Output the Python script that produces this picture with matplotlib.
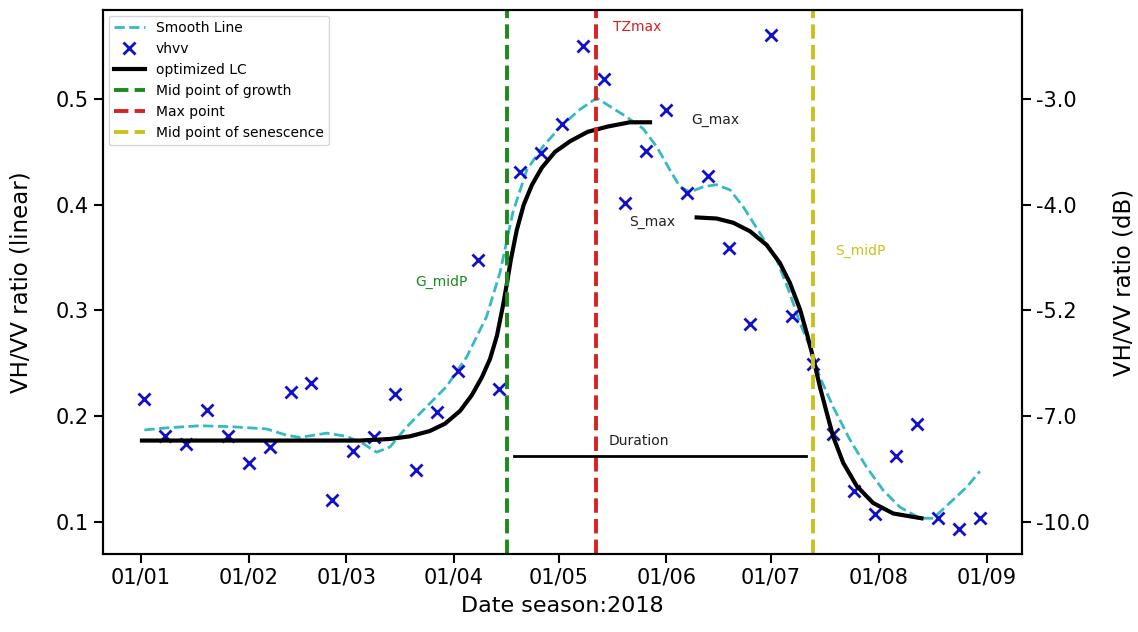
import numpy as np
import matplotlib
matplotlib.use("Agg")
import matplotlib.pyplot as plt
import matplotlib.dates as mdates

# Ngày bắt đầu mùa vụ
season_start = np.datetime64("2018-01-01")

# Quan sát VH/VV (số ngày kể từ 01/01)
obs_days = [1, 7, 13, 19, 25, 31, 37, 43, 49, 55, 61, 67, 73, 79, 85, 91, 97, 103, 109, 115,
            121, 127, 133, 139, 145, 151, 157, 163, 169, 175, 181, 187, 193, 199, 205, 211,
            217, 223, 229, 235, 241]
obs_vhvv = [0.216, 0.181, 0.174, 0.206, 0.181, 0.156, 0.171, 0.223, 0.231, 0.121, 0.167,
            0.180, 0.221, 0.149, 0.204, 0.243, 0.348, 0.226, 0.431, 0.449, 0.476, 0.550,
            0.519, 0.402, 0.451, 0.490, 0.411, 0.427, 0.359, 0.287, 0.561, 0.295, 0.249,
            0.183, 0.129, 0.108, 0.162, 0.193, 0.104, 0.093, 0.104]

# Đường làm mượt
smooth_days = [1, 7.4, 17, 26.5, 36.1, 41.9, 45.7, 53.4, 59.1, 63.9, 67.7, 71.6, 76.4, 82.1,
               87.8, 93.6, 99.3, 103.2, 106.9, 110.9, 115.5, 120.9, 126.1, 131.0, 134.8,
               139.6, 144.3, 148.2, 152.0, 154.9, 157.8, 161.6, 165.4, 169.3, 173.1, 177.9,
               182.7, 186.5, 189.4, 192.2, 195.1, 198.9, 203.7, 208.5, 213.3, 218.1, 223.9,
               227.7, 233.4, 237.3, 241.1]
smooth_vhvv = [0.187, 0.189, 0.191, 0.190, 0.188, 0.182, 0.180, 0.184, 0.181, 0.174, 0.166,
               0.171, 0.190, 0.209, 0.228, 0.256, 0.294, 0.336, 0.393, 0.433, 0.455, 0.475,
               0.490, 0.501, 0.493, 0.483, 0.472, 0.455, 0.433, 0.417, 0.412, 0.417, 0.419,
               0.414, 0.398, 0.373, 0.348, 0.316, 0.288, 0.266, 0.237, 0.209, 0.178, 0.152,
               0.130, 0.114, 0.1035, 0.1035, 0.121, 0.133, 0.148]

# Đường cong tối ưu - giai đoạn sinh trưởng
grow_days = [0.3, 17, 34.2, 51.4, 62.9, 71.6, 77.3, 83, 87.4, 91.7, 95.1, 98, 100.3, 102.3,
             104, 105.2, 106.3, 108, 110, 112.4, 115.2, 119, 123.3, 128.4, 134.2, 140.5, 146.3]
grow_vhvv = [0.177, 0.177, 0.177, 0.177, 0.177, 0.1785, 0.181, 0.186, 0.193, 0.205, 0.220,
             0.237, 0.254, 0.276, 0.304, 0.326, 0.348, 0.376, 0.400, 0.419, 0.435, 0.450,
             0.460, 0.469, 0.474, 0.478, 0.478]

# Đường cong tối ưu - giai đoạn già hóa
sen_days = [159.7, 165.4, 170.2, 175, 179.8, 183.6, 186.5, 189.4, 191.3, 193.2, 195.1, 197.1,
            198.9, 201.8, 205.7, 210.4, 216.2, 224.3]
sen_vhvv = [0.388, 0.387, 0.383, 0.375, 0.362, 0.345, 0.326, 0.301, 0.279, 0.255, 0.228,
            0.203, 0.181, 0.156, 0.134, 0.118, 0.108, 0.1035]

# Các mốc thời gian
g_midp_day = 105.2
tz_max_day = 130.7
s_midp_day = 193.1
duration_days = [107.2, 191.0]
duration_level = 0.1624

y_ticks = [0.1, 0.2, 0.3, 0.4, 0.5]


def to_num(days):
    return mdates.date2num(season_start) + np.asarray(days, dtype=float)


fig = plt.figure(figsize=(11.38, 6.32), dpi=100)
ax = fig.add_axes([0.0905, 0.1234, 0.8076, 0.8608])

ax.plot(to_num(smooth_days), smooth_vhvv, '--', color='#35b9c2', lw=2, label='Smooth Line')
ax.plot(to_num(obs_days), obs_vhvv, 'x', color='#1010c8', ms=8, mew=2, label='vhvv')
ax.plot(to_num(grow_days), grow_vhvv, color='black', lw=3, label='optimized LC')
ax.plot(to_num(sen_days), sen_vhvv, color='black', lw=3)

ax.axvline(to_num(g_midp_day), color='#1a8a1a', ls='--', lw=2.8, label='Mid point of growth')
ax.axvline(to_num(tz_max_day), color='#d62222', ls='--', lw=2.8, label='Max point')
ax.axvline(to_num(s_midp_day), color='#c8c21e', ls='--', lw=2.8, label='Mid point of senescence')

ax.plot(to_num(duration_days), [duration_level, duration_level], color='black', lw=2)

# Nhãn
ax.text(to_num(78.7), 0.327, 'G_midP', color='#1a8a1a', fontsize=10, va='center')
ax.text(to_num(135.6), 0.568, 'TZmax', color='#d62222', fontsize=10, va='center')
ax.text(to_num(158.1), 0.480, 'G_max', color='#222222', fontsize=10, va='center')
ax.text(to_num(140.2), 0.384, 'S_max', color='#222222', fontsize=10, va='center')
ax.text(to_num(199.4), 0.356, 'S_midP', color='#c8c21e', fontsize=10, va='center')
ax.text(to_num(134.5), 0.1766, 'Duration', color='#222222', fontsize=10, va='center')

ax.set_xlim(to_num(-10.9), to_num(253.2))
ax.set_ylim(0.0697, 0.5842)
ax.xaxis.set_major_locator(mdates.MonthLocator())
ax.xaxis.set_major_formatter(mdates.DateFormatter('%d/%m'))
ax.set_yticks(y_ticks)
ax.tick_params(labelsize=15, length=6.5, width=1.5)
ax.set_xlabel('Date season:2018', fontsize=16, labelpad=6)
ax.set_ylabel('VH/VV ratio (linear)', fontsize=16.5, labelpad=17)

# Trục phải theo dB
ax2 = ax.twinx()
ax2.set_ylim(ax.get_ylim())
ax2.set_yticks(y_ticks)
ax2.set_yticklabels([f"{10 * np.log10(t):.1f}" for t in y_ticks])
ax2.tick_params(labelsize=15, length=6.5, width=1.5)
ax2.set_ylabel('VH/VV ratio (dB)', fontsize=16.5, labelpad=16)

for a in (ax, ax2):
    for s in a.spines.values():
        s.set_linewidth(1.5)

ax.legend(loc='upper left', fontsize=10, labelspacing=0.5, handlelength=2.2,
          borderaxespad=0.4)

fig.savefig('out.png', dpi=100)
